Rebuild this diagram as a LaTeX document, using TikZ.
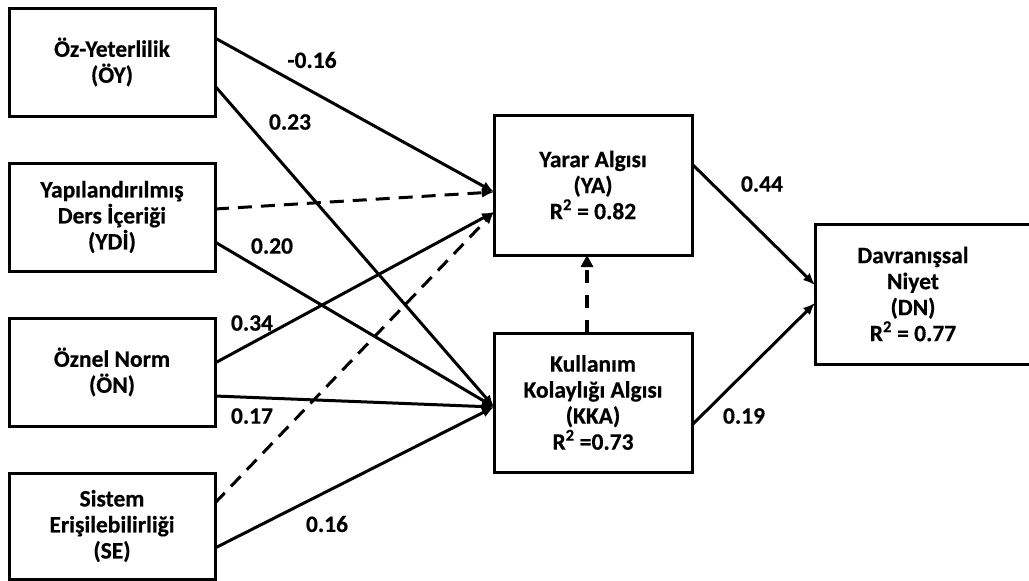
\documentclass[tikz,border=0pt]{standalone}
\usepackage{fontspec}
\setmainfont{Carlito}[BoldFeatures={FakeBold=0.5}]
\usetikzlibrary{arrows.meta,calc}
\begin{document}
\begin{tikzpicture}[x=1pt,y=-1pt,
  box/.style={draw,line width=3pt,inner sep=0pt,outer sep=0pt,align=center,
    font=\bfseries\fontsize{23.5}{26}\selectfont},
  lbl/.style={font=\bfseries\fontsize{23.5}{26}\selectfont,inner sep=0pt},
  conn/.style={line width=3pt,-{Latex[length=12pt,width=10pt]}},
  dsh/.style={conn,dash pattern=on 14pt off 9pt}]
\useasboundingbox (0,0) rectangle (1029,581);
\clip (0,0) rectangle (1029,581);
\node[box,minimum width=206pt,minimum height=108pt] (OY) at (112,62) {Öz-Yeterlilik\\(ÖY)};
\node[box,minimum width=206pt,minimum height=108pt] (YDI) at (112,217) {Yapılandırılmış\\Ders İçeriği\\(YDİ)};
\node[box,minimum width=206pt,minimum height=108pt] (ON) at (112,372) {Öznel Norm\\(ÖN)};
\node[box,minimum width=206pt,minimum height=106pt] (SE) at (112,526) {Sistem\\Erişilebilirliği\\(SE)};
\node[box,minimum width=198pt,minimum height=140pt] (YA) at (593,185) {Yarar Algısı\\(YA)\\R\textsuperscript{2} = 0.82};
\node[box,minimum width=198pt,minimum height=139pt] (KKA) at (593,402.5) {Kullanım\\Kolaylığı Algısı\\(KKA)\\R\textsuperscript{2} =0.73};
\node[box,minimum width=225pt,minimum height=140pt] (DN) at (927.5,294) {};
\node[lbl,align=center] (DNt) at (913,294) {Davranışsal\\Niyet\\(DN)\\R\textsuperscript{2} = 0.77};
% connectors
\draw[conn] ([yshift=24pt]OY.east) -- ([yshift=-7pt]YA.west);
\draw[conn] ([yshift=-24pt]OY.east) -- ([yshift=-4.5pt]KKA.west);
\draw[dsh] ([yshift=8pt]YDI.east) -- ([yshift=-7pt]YA.west);
\draw[conn] ([yshift=-25pt]YDI.east) -- ([yshift=-4.5pt]KKA.west);
\draw[conn] ([yshift=9pt]ON.east) -- ([yshift=-27pt]YA.west);
\draw[conn] ([yshift=-24pt]ON.east) -- ([yshift=-4.5pt]KKA.west);
\draw[dsh] ([yshift=23pt]SE.east) -- ([yshift=-27pt]YA.west);
\draw[conn] ([yshift=-22pt]SE.east) -- ([yshift=-4.5pt]KKA.west);
\draw[conn] ([yshift=21pt]YA.east) -- ([yshift=9pt]DN.west);
\draw[conn] ([yshift=-22.5pt]KKA.east) -- ([yshift=-9pt]DN.west);
\draw[line width=4pt,dash pattern=on 13pt off 12pt,-{Triangle[length=12pt,width=12pt]}] ([xshift=-6pt]KKA.north) -- ([xshift=-6pt]YA.south);
% labels
\node[lbl] (l1) at (312,60) {-0.16};
\node[lbl] (l2) at (290,122) {0.23};
\node[lbl] (l3) at (272,246) {0.20};
\node[lbl] (l4) at (252,323) {0.34};
\node[lbl] (l5) at (252,416) {0.17};
\node[lbl] (l6) at (327,524) {0.16};
\node[lbl] (l7) at (762,184) {0.44};
\node[lbl] (l8) at (744,416) {0.19};
\end{tikzpicture}
\end{document}
